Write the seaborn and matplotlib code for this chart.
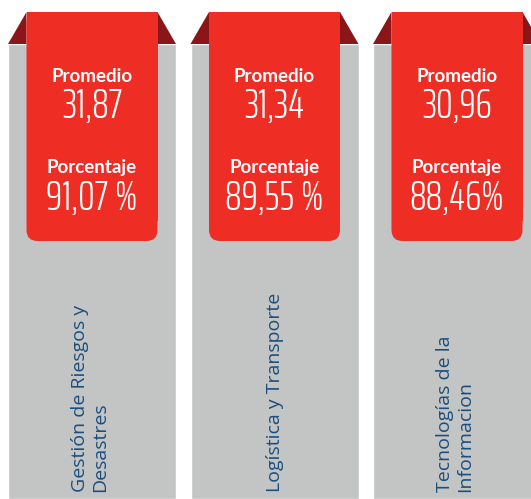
import matplotlib
matplotlib.use("Agg")
import matplotlib.pyplot as plt
from matplotlib.patches import FancyBboxPatch, Rectangle, Polygon
import seaborn as sns
import numpy as np
import pandas as pd

# datos
areas = ["Gestión de Riesgos y\nDesastres", "Logística y Transporte", "Tecnologías de la\nInformacion"]
promedio = ["31,87", "31,34", "30,96"]
porcentaje = ["91,07 %", "89,55 %", "88,46%"]

gris = "#c3c4c4"
rojo = "#ee2e24"
rojo_osc = "#8a1619"
azul = "#1b4e7e"

W, H = 531, 499
U = 182.5          # pixeles por categoria
x0 = 92            # centro de la primera columna

sns.set_style("white")
fig = plt.figure(figsize=(W / 100, H / 100), dpi=100)
ax = fig.add_axes([0, 0, 1, 1])

df = pd.DataFrame({"area": areas, "alto": np.full(len(areas), H - 44)})
sns.barplot(data=df, x="area", y="alto", color=gris, saturation=1, width=168 / U, ax=ax)

hw_g = 84 / U
hw_r = 65.5 / U
top_r = H - 12
bot_r = H - 241
top_g = H - 44
for i in range(len(areas)):
    # pliegues oscuros
    ax.add_patch(Polygon([(i - hw_g, top_g), (i - hw_r, top_r), (i - hw_r, top_g)], color=rojo_osc, lw=0))
    ax.add_patch(Polygon([(i + hw_g, top_g), (i + hw_r, top_r), (i + hw_r, top_g)], color=rojo_osc, lw=0))
    # cinta roja con esquinas redondeadas abajo
    ax.add_patch(FancyBboxPatch((i - hw_r, bot_r), 2 * hw_r, top_r - bot_r,
                                boxstyle=f"round,pad=0,rounding_size={11 / U}",
                                mutation_aspect=U, color=rojo, lw=0))
    ax.add_patch(Rectangle((i - hw_r, bot_r + 20), 2 * hw_r, top_r - bot_r - 20, color=rojo, lw=0))

    ax.text(i, H - 76, "Promedio", ha="center", va="center", color="white",
            fontsize=13.5, fontweight="bold", family="Lato")
    ax.text(i, H - 106, promedio[i], ha="center", va="center", color="white",
            fontsize=30, fontweight=300, family="Saira ExtraCondensed")
    ax.text(i, H - 167, "Porcentaje", ha="center", va="center", color="white",
            fontsize=13.5, fontweight="bold", family="Lato")
    ax.text(i, H - 198, porcentaje[i], ha="center", va="center", color="white",
            fontsize=30, fontweight=300, family="Saira ExtraCondensed")

    dx = -2 / U if "\n" in areas[i] else 0
    ax.text(i + dx, 7, areas[i], rotation=90, ha="center", va="bottom", multialignment="left",
            color=azul, fontsize=14, family="Open Sans", linespacing=1.2)

ax.set_xlim(-x0 / U, (W - x0) / U)
ax.set_ylim(0, H)
ax.axis("off")
fig.savefig("out.png", dpi=100)
